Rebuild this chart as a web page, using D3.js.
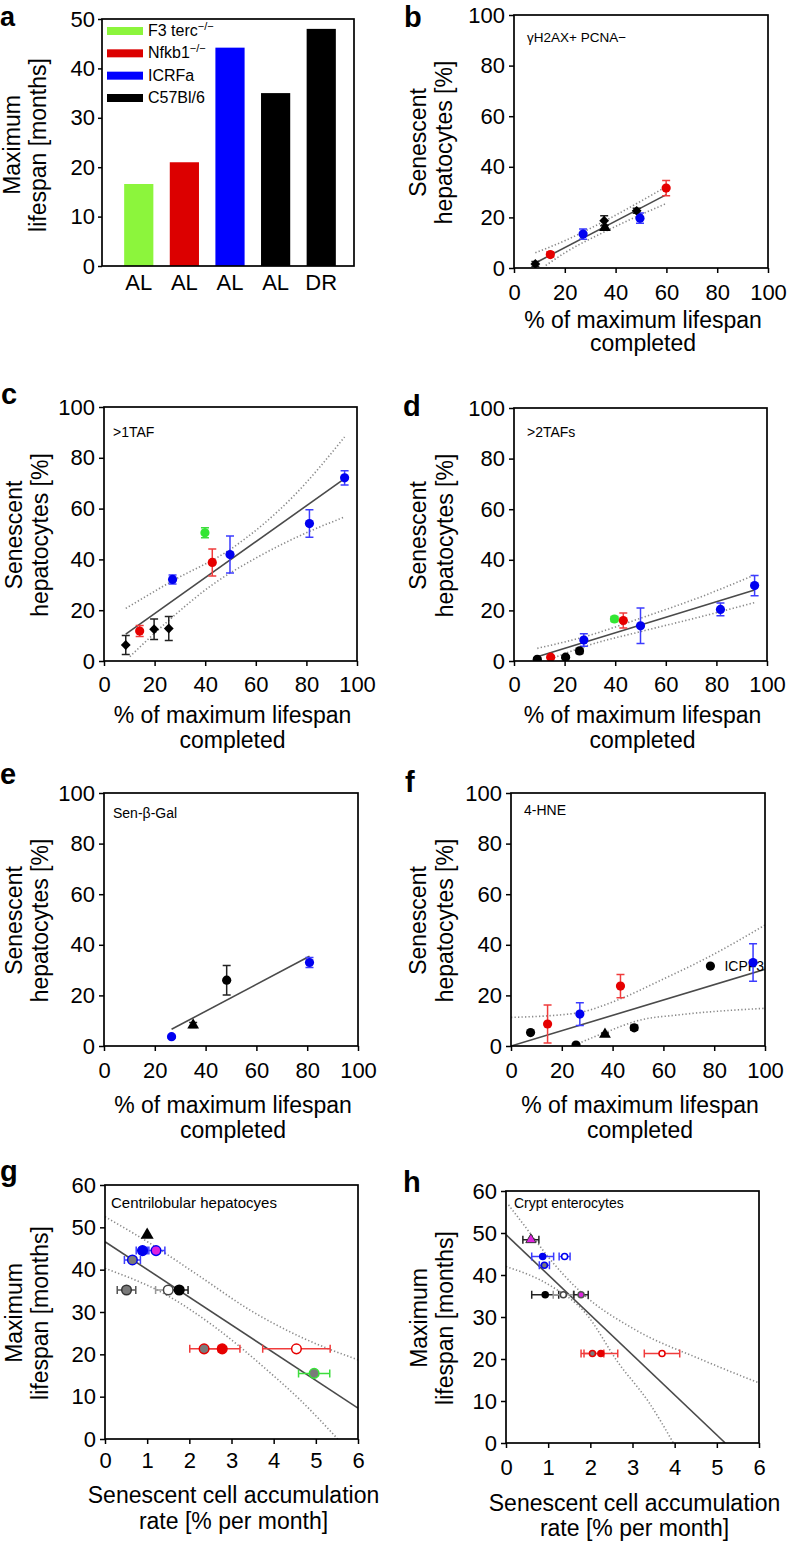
<!DOCTYPE html>
<html><head><meta charset="utf-8">
<script src="https://cdn.jsdelivr.net/npm/d3@7"></script>
<style>
body{margin:0;background:#fff;}
text{font-family:"Liberation Sans",Arial,Helvetica,sans-serif;fill:#000;}
</style></head><body>
<script>
// ---------------- DATA ----------------
// Panel a
const barCategories = ["AL","AL","AL","AL","DR"];
const barStrains = ["terc","nfkb","icrfa","c57","c57"];
const barValues = [16.6, 21.0, 44.2, 35.0, 48.0];
const barTicks = [0,10,20,30,40,50];
const legendKeys = ["terc","nfkb","icrfa","c57"];
const legendNames = ["F3 terc","Nfkb1","ICRFa","C57Bl/6"];
const legendSup = ["\u2212/\u2212","\u2212/\u2212","",""];

// common ticks
const pctTicks = [0,20,40,60,80,100];
const rateTicks = [0,1,2,3,4,5,6];
const lifespanTicks = [0,10,20,30,40,50,60];

// Panel b: gammaH2AX+ PCNA-
const pointsB = [
  {x:8.4,y:1.6,e:1,g:"c57"},{x:14.3,y:5.3,e:1,g:"nfkb"},{x:27.2,y:13.4,e:2,g:"icrfa"},
  {x:35.5,y:18.7,e:2,g:"c57"},{x:35.8,y:16.0,e:1,g:"c57dr"},{x:48.3,y:22.6,e:1,g:"c57"},
  {x:49.6,y:19.7,e:2,g:"icrfa"},{x:59.9,y:31.6,e:3,g:"nfkb"}];
const fitB = [[8.4,2.0],[60,29.0]];
const bandUpB = [[8.4,6.0],[20,10.8],[35,18.2],[48,25.3],[60,32.2]];
const bandLoB = [[12.5,1.0],[20,6.0],[35,14.0],[48,20.2],[60,25.5]];

// Panel c: >1TAF
const pointsC = [
  {x:8.6,y:6.3,e:3.7,g:"c57"},{x:14.1,y:11.8,e:2.2,g:"nfkb"},{x:19.8,y:12.5,e:4,g:"c57"},
  {x:25.6,y:12.8,e:4.7,g:"c57"},{x:27.1,y:32.1,e:1.8,g:"icrfa"},{x:39.9,y:50.5,e:2,g:"terc"},
  {x:42.8,y:38.8,e:5.3,g:"nfkb"},{x:49.8,y:41.9,e:7.3,g:"icrfa"},{x:81.2,y:54.1,e:5.4,g:"icrfa"},
  {x:95.1,y:72.1,e:2.8,g:"icrfa"}];
const fitC = [[8.6,10.6],[95.1,71.8]];
const bandUpC = [[8.6,20.7],[27,31.5],[50,44],[75,65],[95.1,88.2]];
const bandLoC = [[10.2,1.7],[25.6,16],[42.8,30],[60,40.5],[80,50.5],[95.1,56.7]];

// Panel d: >2TAFs
const pointsD = [
  {x:9.2,y:0.7,e:0.5,g:"c57"},{x:14.5,y:1.5,e:0.5,g:"nfkb"},{x:20.4,y:1.5,e:0.5,g:"c57"},
  {x:25.9,y:4.0,e:1,g:"c57"},{x:27.6,y:8.3,e:2.5,g:"icrfa"},{x:39.7,y:16.6,e:1,g:"terc"},
  {x:43.2,y:16.0,e:3,g:"nfkb"},{x:50,y:13.9,e:7,g:"icrfa"},{x:81.6,y:20.4,e:2.5,g:"icrfa"},
  {x:95.1,y:29.8,e:4,g:"icrfa"}];
const fitD = [[9.2,1.7],[95.1,28.1]];
const bandUpD = [[9.2,5.0],[30,10.2],[50,16.9],[75,25.8],[95.1,34.0]];
const bandLoD = [[14.5,0.8],[30,6.4],[50,11.6],[75,17.8],[95.1,23.1]];

// Panel e: Sen-beta-Gal
const pointsE = [
  {x:26.6,y:3.7,e:0.5,g:"icrfa"},{x:35.1,y:8.3,e:1,g:"c57dr"},
  {x:48.3,y:26,e:5.8,g:"c57"},{x:80.9,y:33,e:2,g:"icrfa"}];
const fitE = [[26.6,6.6],[80.9,35.5]];

// Panel f: 4-HNE
const pointsF = [
  {x:7.7,y:5.3,e:0,g:"c57"},{x:14.4,y:8.7,e:7.5,g:"nfkb"},{x:25.6,y:0.4,e:0,g:"c57"},
  {x:27.1,y:12.6,e:4.5,g:"icrfa"},{x:37,y:4.6,e:0.5,g:"c57dr"},{x:43.1,y:23.7,e:4.6,g:"nfkb"},
  {x:48.5,y:7.2,e:1,g:"c57"},{x:78.5,y:31.6,e:0,g:"c57"},{x:95.3,y:33,e:7.4,g:"icrfa"}];
const fitF = [[0,0],[100,30.3]];
const bandUpF = [[0,11.3],[25,12.9],[42,18.2],[59,26],[78,35.3],[100,47.8]];
const bandLoF = [[25.2,0.4],[38,5.7],[51,10.3],[65,12.2],[100,14.9]];
const labelF = {x:78.5, y:31.6, text:"ICPF3"};

// Panel g: Centrilobular hepatocytes
const pointsG = [
  {x:1.0,y:48.2,e:0,g:"c57",k:"triangle"},
  {x:0.89,y:44.5,e:0.15,g:"icrfa",k:"filled"},
  {x:1.21,y:44.5,e:0.21,g:"icrfa",k:"magenta"},
  {x:0.65,y:42.3,e:0.19,g:"icrfa",k:"gray"},
  {x:0.51,y:35.2,e:0.22,g:"c57",k:"gray"},
  {x:1.5,y:35.2,e:0.3,g:"c57",k:"open"},
  {x:1.76,y:35.2,e:0.21,g:"c57",k:"filled"},
  {x:2.35,y:21.3,e:0.34,g:"nfkb",k:"gray"},
  {x:2.78,y:21.3,e:0.42,g:"nfkb",k:"filled"},
  {x:4.54,y:21.3,e:0.8,g:"nfkb",k:"open"},
  {x:4.96,y:15.5,e:0.37,g:"terc",k:"gray"}];
const fitG = [[0,46.6],[6,7.3]];
const bandUpG = [[0,52.5],[1.07,46.2],[2.25,38.4],[3.43,30.5],[4.62,24.2],[6,18.7]];
const bandLoG = [[0,40.3],[1.46,34],[2.64,26.2],[3.83,16.4],[4.62,9.3],[5.52,0]];

// Panel h: Crypt enterocytes
const pointsH = [
  {x:0.59,y:48.4,e:0.19,g:"c57",k:"magentaTri"},
  {x:0.87,y:44.4,e:0.26,g:"icrfa",k:"filled"},
  {x:1.39,y:44.4,e:0.13,g:"icrfa",k:"open"},
  {x:0.91,y:42.3,e:0.12,g:"icrfa",k:"gray"},
  {x:0.93,y:35.3,e:0.32,g:"c57",k:"filled"},
  {x:1.36,y:35.3,e:0.24,g:"c57",k:"open"},
  {x:1.78,y:35.3,e:0.17,g:"c57",k:"magenta"},
  {x:2.05,y:21.3,e:0.27,g:"nfkb",k:"gray"},
  {x:2.25,y:21.3,e:0.4,g:"nfkb",k:"filled"},
  {x:3.7,y:21.3,e:0.42,g:"nfkb",k:"open"}];
const fitH = [[0,49.6],[5.2,0]];
const bandUpH = [[0.06,56.7],[0.69,48.4],[0.93,45.2],[1.8,35.7],[3.06,27],[4.65,19.8],[6,14.3]];
const bandLoH = [[0,42],[1.08,37.3],[1.88,31],[2.67,19],[3.38,9.8],[3.97,0]];

// ---------------- STYLE ----------------
const FONT = '"Liberation Sans",Arial,Helvetica,sans-serif';
const BAR_COLORS = {terc:"#8cf53c", nfkb:"#dc0000", icrfa:"#0000ff", c57:"#000000"};
const PT_COLORS = {terc:"#33e633", nfkb:"#e60000", icrfa:"#0000f0", c57:"#000000", c57dr:"#000000"};
const ERR_COLORS = {terc:"#3ddd3d", nfkb:"#f03c3c", icrfa:"#3c3cff", c57:"#222222", c57dr:"#222222"};
const MAGENTA = "#dd22dd";

const svg = d3.select("body").append("svg")
  .attr("width",788).attr("height",1544).style("display","block");

function letter(t,x,y,fs){
  svg.append("text").attr("x",x).attr("y",y).attr("font-size",fs||29)
    .attr("font-weight","bold").text(t);
}
function frame(L,R,T,B){
  svg.append("rect").attr("x",L).attr("y",T).attr("width",R-L).attr("height",B-T)
    .attr("fill","none").attr("stroke","#000").attr("stroke-width",1.7);
}
function styleAxis(sel,fs){
  sel.attr("font-family",FONT).attr("font-size",fs);
  sel.select(".domain").remove();
  sel.selectAll(".tick line").attr("stroke","#000").attr("stroke-width",1.5);
  sel.selectAll(".tick text").attr("fill","#000");
}
function yTitle(lines,xs,cy){
  lines.forEach((t,i)=>{
    svg.append("text").attr("transform",`translate(${xs[i]},${cy}) rotate(-90)`)
      .attr("text-anchor","middle").attr("font-size",23).text(t);
  });
}
function xTitle(lines,cx,ys){
  lines.forEach((t,i)=>{
    svg.append("text").attr("x",cx).attr("y",ys[i]).attr("text-anchor","middle")
      .attr("font-size",23).text(t);
  });
}

// ---------------- PANEL a ----------------
(function(){
  const L=102,R=354,T=19,B=266;
  const x = d3.scaleBand().domain(d3.range(barValues.length)).range([105,355])
    .paddingInner(0.36).paddingOuter(0.42);
  const y = d3.scaleLinear().domain([0,50]).range([B,T]);
  svg.append("g").selectAll("rect").data(barValues).join("rect")
    .attr("x",(d,i)=>x(i)).attr("width",x.bandwidth())
    .attr("y",d=>y(d)).attr("height",d=>y(0)-y(d))
    .attr("fill",(d,i)=>BAR_COLORS[barStrains[i]]);
  frame(L,R,T,B);
  const ya = svg.append("g").attr("transform",`translate(${L},0)`)
    .call(d3.axisLeft(y).tickValues(barTicks).tickSize(4).tickPadding(3).tickSizeOuter(0));
  styleAxis(ya,22);
  svg.append("g").selectAll("text").data(barCategories).join("text")
    .attr("x",(d,i)=>x(i)+x.bandwidth()/2).attr("y",290)
    .attr("text-anchor","middle").attr("font-size",22).text(d=>d);
  // legend
  const legY = d3.scalePoint().domain(legendKeys).range([36,103]);
  const lg = svg.append("g");
  legendKeys.forEach((k,i)=>{
    const by = legY(k);
    lg.append("rect").attr("x",107).attr("y",by-9).attr("width",36).attr("height",8)
      .attr("fill",BAR_COLORS[k]);
    const t = lg.append("text").attr("x",148).attr("y",by).attr("font-size",16).text(legendNames[i]);
    if(legendSup[i]) t.append("tspan").attr("dy",-6).attr("font-size",11).text(legendSup[i]);
  });
  yTitle(["Maximum","lifespan [months]"],[20,46],145);
  letter("a",0,26,27);
})();

// ---------------- SCATTER PANELS ----------------
let clipN = 0;
function scatter(cfg){
  const {L,R,T,B} = cfg;
  const x = d3.scaleLinear().domain(cfg.xDomain).range([L,R]);
  const y = d3.scaleLinear().domain(cfg.yDomain).range([B,T]);
  const id = "clip"+(clipN++);
  svg.append("clipPath").attr("id",id).append("rect")
    .attr("x",L).attr("y",T).attr("width",R-L).attr("height",B-T);
  const g = svg.append("g").attr("clip-path",`url(#${id})`);
  const line = d3.line().x(d=>x(d[0])).y(d=>y(d[1])).curve(d3.curveMonotoneX);
  (cfg.bands||[]).forEach(b=>{
    g.append("path").attr("d",line(b)).attr("fill","none")
      .attr("stroke","#8a8a8a").attr("stroke-width",1.6).attr("stroke-dasharray","1.3 2.2");
  });
  if(cfg.fit) g.append("path").attr("d",d3.line().x(d=>x(d[0])).y(d=>y(d[1]))(cfg.fit))
    .attr("fill","none").attr("stroke","#4a4a4a").attr("stroke-width",1.6);
  if(cfg.label){
    svg.append("text").attr("x",x(cfg.label.x)+14).attr("y",y(cfg.label.y)+5)
      .attr("font-size",14).text(cfg.label.text);
  }
  const pts = svg.append("g").attr("clip-path",`url(#${id})`);
  const cap = 4;
  cfg.points.forEach(p=>{
    let ec = ERR_COLORS[p.g];
    if(cfg.horizontal){
      if(p.g==="c57" && p.k==="gray") ec="#555";
      if(p.g==="c57" && p.k==="open") ec="#999";
      if(p.e>0){
        const x0=x(p.x-p.e), x1=x(p.x+p.e), yy=y(p.y);
        pts.append("path").attr("d",`M${x0},${yy}H${x1}M${x0},${yy-cap}V${yy+cap}M${x1},${yy-cap}V${yy+cap}`)
          .attr("stroke",ec).attr("stroke-width",1.5).attr("fill","none");
      }
    } else if(p.e>0){
      const y0=y(p.y-p.e), y1=y(p.y+p.e), xx=x(p.x);
      pts.append("path").attr("d",`M${xx},${y0}V${y1}M${xx-cap},${y0}H${xx+cap}M${xx-cap},${y1}H${xx+cap}`)
        .attr("stroke",ec).attr("stroke-width",1.5).attr("fill","none");
    }
  });
  cfg.points.forEach(p=>{
    const cx=x(p.x), cy=y(p.y);
    if(cfg.horizontal){
      const r = cfg.r;
      const col = PT_COLORS[p.g];
      if(p.k==="triangle"){
        pts.append("path").attr("d",d3.symbol(d3.symbolTriangle,r*r*3.2)())
          .attr("transform",`translate(${cx},${cy})`).attr("fill","#000");
      } else if(p.k==="magentaTri"){
        pts.append("path").attr("d",d3.symbol(d3.symbolTriangle,r*r*5)())
          .attr("transform",`translate(${cx},${cy})`).attr("fill",MAGENTA).attr("stroke","#333").attr("stroke-width",1);
      } else {
        let fill = col, stroke = col;
        if(p.k==="gray"){ fill="#7a7a7a"; stroke = p.g==="c57"?"#333":col; }
        if(p.k==="open"){ fill="#fff"; stroke = p.g==="c57"?"#444":col; }
        if(p.k==="magenta"){ fill=MAGENTA; stroke = p.g==="c57"?"#555":col; }
        pts.append("circle").attr("cx",cx).attr("cy",cy).attr("r",r)
          .attr("fill",fill).attr("stroke",stroke).attr("stroke-width",1.5);
      }
    } else {
      if(p.g==="c57dr"){
        pts.append("path").attr("d",d3.symbol(d3.symbolTriangle,60)())
          .attr("transform",`translate(${cx},${cy})`).attr("fill","#000");
      } else if(p.g==="c57" && cfg.diamond){
        pts.append("path").attr("d",d3.symbol(d3.symbolSquare,48)())
          .attr("transform",`translate(${cx},${cy}) rotate(45)`).attr("fill","#000");
      } else {
        pts.append("circle").attr("cx",cx).attr("cy",cy).attr("r",4.6)
          .attr("fill",PT_COLORS[p.g]);
      }
    }
  });
  frame(L,R,T,B);
  const tickBase = 5 + 0.71*22;
  const xa = svg.append("g").attr("transform",`translate(0,${B})`)
    .call(d3.axisBottom(x).tickValues(cfg.xTicks).tickFormat(d3.format("d")).tickSize(5).tickSizeOuter(0)
      .tickPadding(cfg.xTickOff - tickBase));
  styleAxis(xa,22);
  const ya = svg.append("g").attr("transform",`translate(${L},0)`)
    .call(d3.axisLeft(y).tickValues(cfg.yTicks).tickFormat(d3.format("d")).tickSize(5).tickSizeOuter(0).tickPadding(4));
  styleAxis(ya,22);
  svg.append("text").attr("x",cfg.inner.x).attr("y",cfg.inner.y)
    .attr("font-size",cfg.inner.fs).text(cfg.inner.text);
  yTitle(cfg.yTitle,cfg.yTitleX,(T+B)/2+1);
  xTitle(cfg.xTitle,(L+R)/2+2,cfg.xTitleY);
  letter(cfg.letter,cfg.letterPos[0],cfg.letterPos[1]);
}

const pctTitle = ["% of maximum lifespan","completed"];
const senTitle = ["Senescent","hepatocytes [%]"];
const rateTitle = ["Senescent cell accumulation","rate [% per month]"];
const lifeTitle = ["Maximum","lifespan [months]"];

scatter({L:514,R:768,T:15,B:268,xDomain:[0,100],yDomain:[0,100],xTicks:pctTicks,yTicks:pctTicks,
  points:pointsB,fit:fitB,bands:[bandUpB,bandLoB],diamond:true,xTickOff:32,
  inner:{x:527,y:42,fs:13.5,text:"\u03b3H2AX+ PCNA\u2212"},
  yTitle:senTitle,yTitleX:[426,452],xTitle:pctTitle,xTitleY:[328,351],letter:"b",letterPos:[404,27]});

scatter({L:104,R:357,T:407,B:661,xDomain:[0,100],yDomain:[0,100],xTicks:pctTicks,yTicks:pctTicks,
  points:pointsC,fit:fitC,bands:[bandUpC,bandLoC],diamond:true,xTickOff:31,
  inner:{x:113,y:437,fs:14,text:">1TAF"},
  yTitle:senTitle,yTitleX:[22,48],xTitle:pctTitle,xTitleY:[723,748],letter:"c",letterPos:[1,404]});

scatter({L:514,R:767,T:408,B:661,xDomain:[0,100],yDomain:[0,100],xTicks:pctTicks,yTicks:pctTicks,
  points:pointsD,fit:fitD,bands:[bandUpD,bandLoD],diamond:false,xTickOff:31,
  inner:{x:527,y:437,fs:14,text:">2TAFs"},
  yTitle:senTitle,yTitleX:[426,453],xTitle:pctTitle,xTitleY:[723,748],letter:"d",letterPos:[403,416]});

scatter({L:104,R:358,T:793,B:1046,xDomain:[0,100],yDomain:[0,100],xTicks:pctTicks,yTicks:pctTicks,
  points:pointsE,fit:fitE,bands:[],diamond:false,xTickOff:32,
  inner:{x:113,y:818,fs:14,text:"Sen-\u03b2-Gal"},
  yTitle:senTitle,yTitleX:[22,48],xTitle:pctTitle,xTitleY:[1113,1138],letter:"e",letterPos:[0,784]});

scatter({L:511,R:765,T:793,B:1046,xDomain:[0,100],yDomain:[0,100],xTicks:pctTicks,yTicks:pctTicks,
  points:pointsF,fit:fitF,bands:[bandUpF,bandLoF],diamond:false,xTickOff:32,label:labelF,
  inner:{x:524,y:815,fs:14,text:"4-HNE"},
  yTitle:senTitle,yTitleX:[426,453],xTitle:pctTitle,xTitleY:[1113,1138],letter:"f",letterPos:[405,792]});

scatter({L:105,R:358,T:1185,B:1439,xDomain:[0,6],yDomain:[0,60],xTicks:rateTicks,yTicks:lifespanTicks,
  points:pointsG,fit:fitG,bands:[bandUpG,bandLoG],horizontal:true,r:4.8,xTickOff:29,
  inner:{x:111,y:1208,fs:15,text:"Centrilobular hepatocyes"},
  yTitle:lifeTitle,yTitleX:[22,48],xTitle:rateTitle,xTitleY:[1503,1529],letter:"g",letterPos:[0,1181]});

scatter({L:506,R:759,T:1191,B:1443,xDomain:[0,6],yDomain:[0,60],xTicks:rateTicks,yTicks:lifespanTicks,
  points:pointsH,fit:fitH,bands:[bandUpH,bandLoH],horizontal:true,r:3,xTickOff:32,
  inner:{x:514,y:1208,fs:14,text:"Crypt enterocytes"},
  yTitle:lifeTitle,yTitleX:[427,453],xTitle:rateTitle,xTitleY:[1511,1536],letter:"h",letterPos:[403,1192]});
</script></body></html>
